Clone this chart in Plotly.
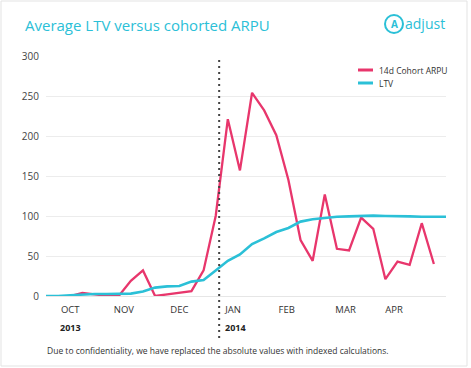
import plotly.graph_objects as go
import pandas as pd

# ---- data ----
arpu_start = "2013-10-07"
arpu_values = [0, 4, 2, 0.5, 0, 19, 32, 0, 2, 4, 6, 32, 100, 221, 157, 254, 232, 201,
               145, 70, 44, 127, 59, 57, 98, 84, 21, 43, 39, 91, 40]
ltv_start = "2013-09-23"
ltv_values = [0, 0, 1, 2, 2.5, 2.5, 3, 3, 5.5, 10.5, 12, 12.5, 18, 20, 32, 44, 52, 65,
              72, 80, 85, 93, 96, 97.5, 99, 99.5, 100, 100.5, 100, 100, 99.5, 99, 99, 99]
arpu_dates = pd.date_range(arpu_start, periods=len(arpu_values), freq="7D")
ltv_dates = pd.date_range(ltv_start, periods=len(ltv_values), freq="7D")

month_tick_dates = ["2013-10-07", "2013-11-07", "2013-12-09", "2014-01-09",
                    "2014-02-09", "2014-03-15", "2014-04-12"]
month_tick_labels = ["OCT", "NOV", "DEC", "JAN", "FEB", "MAR", "APR"]
year_label_dates = ["2013-09-30", "2014-01-03"]
year_labels = ["2013", "2014"]
split_date = "2014-01-01"
y_ticks = [0, 50, 100, 150, 200, 250, 300]

series_names = ["14d Cohort ARPU", "LTV"]
RED = "#e8366c"
CYAN = "#2bc0d7"
FONT = "Open Sans"

# pixel helpers for layout decoration (plot area 46..446 x, 56..296 y)
L, R, T, B = 46, 446, 56, 296
def px(x):
    return (x - L) / (R - L)
def py(y):
    return (B - y) / (B - T)

fig = go.Figure()
fig.add_trace(go.Scatter(x=arpu_dates, y=arpu_values, mode="lines", name=series_names[0],
                         line=dict(color=RED, width=2.3), showlegend=False))
fig.add_trace(go.Scatter(x=ltv_dates, y=ltv_values, mode="lines", name=series_names[1],
                         line=dict(color=CYAN, width=2.6), showlegend=False))

shapes = []
# dotted separator
shapes.append(dict(type="line", xref="x", yref="paper", x0=split_date, x1=split_date,
                   y0=py(338), y1=1.0, line=dict(color="#444444", width=2, dash="2px,4px")))
# card border
shapes.append(dict(type="rect", xref="paper", yref="paper", x0=px(1), x1=px(467),
                   y0=py(366), y1=py(1), line=dict(color="#e3e3e3", width=1)))
# legend lines
for i, (yy, col) in enumerate([(70, RED), (83, CYAN)]):
    shapes.append(dict(type="line", xref="paper", yref="paper", x0=px(358), x1=px(373),
                       y0=py(yy), y1=py(yy), line=dict(color=col, width=3)))
# logo circle
shapes.append(dict(type="circle", xref="paper", yref="paper", x0=px(385), x1=px(403),
                   y0=py(33), y1=py(15), line=dict(color=CYAN, width=2)))

annotations = []
for yy, name in [(70, series_names[0]), (83, series_names[1])]:
    annotations.append(dict(xref="paper", yref="paper", x=px(377), y=py(yy), text=name,
                            showarrow=False, xanchor="left", yanchor="middle",
                            font=dict(family=FONT, size=8.5, color="#333333")))
for d, t in zip(year_label_dates, year_labels):
    annotations.append(dict(xref="x", yref="paper", x=d, y=py(327), text="<b>" + t + "</b>",
                            showarrow=False, xanchor="left", yanchor="middle",
                            font=dict(family=FONT, size=9, color="#222222")))
annotations.append(dict(xref="paper", yref="paper", x=px(45), y=py(350),
                        text="Due to confidentiality, we have replaced the absolute values with indexed calculations.",
                        showarrow=False, xanchor="left", yanchor="middle",
                        font=dict(family=FONT, size=8.5, color="#333333")))
annotations.append(dict(xref="paper", yref="paper", x=px(23), y=py(25),
                        text="Average LTV versus cohorted ARPU", showarrow=False,
                        xanchor="left", yanchor="middle",
                        font=dict(family=FONT, size=15, color=CYAN)))
annotations.append(dict(xref="paper", yref="paper", x=px(394), y=py(24),
                        text="<b>A</b>", showarrow=False, xanchor="center", yanchor="middle",
                        font=dict(family=FONT, size=10, color=CYAN)))
annotations.append(dict(xref="paper", yref="paper", x=px(403), y=py(23),
                        text="adjust", showarrow=False, xanchor="left", yanchor="middle",
                        font=dict(family=FONT, size=14, color=CYAN)))

fig.update_layout(
    width=471, height=368,
    margin=dict(l=L, r=471 - R, t=T, b=368 - B),
    paper_bgcolor="white", plot_bgcolor="white",
    shapes=shapes, annotations=annotations,
    font=dict(family=FONT),
    xaxis=dict(type="date", range=[ltv_dates[0], ltv_dates[-1]],
               tickvals=month_tick_dates, ticktext=month_tick_labels,
               showgrid=False, zeroline=False, showline=False, ticks="",
               tickfont=dict(family=FONT, size=9.5, color="#333333"),
               ticklabelstandoff=6),
    yaxis=dict(range=[0, 300], tickvals=y_ticks, showgrid=True, gridcolor="#ececec",
               gridwidth=1, zeroline=True, zerolinecolor="#e6e6e6", zerolinewidth=1,
               showline=False, ticks="",
               tickfont=dict(family=FONT, size=10, color="#444444"),
               ticklabelstandoff=6),
)

fig.write_html("out.html", config={"displayModeBar": False},
               post_script="document.body.style.margin='0px';document.body.style.overflow='hidden';")
